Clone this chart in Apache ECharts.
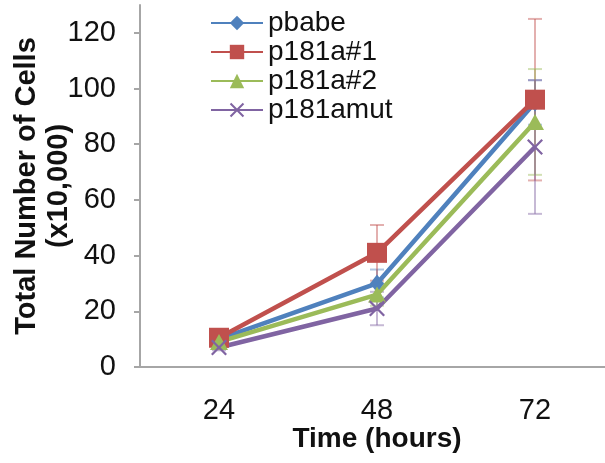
<!DOCTYPE html>
<html>
<head>
<meta charset="utf-8">
<script src="https://cdn.jsdelivr.net/npm/echarts@6/dist/echarts.min.js"></script>
<style>
  html, body { margin: 0; padding: 0; background: #fff; }
  #chart { width: 605px; height: 463px; }
</style>
</head>
<body>
<div id="chart"></div>
<script>
// time points (hours)
var categories = ['24', '48', '72'];
var yTicks = [0, 20, 40, 60, 80, 100, 120];

// mean cell counts (x10,000)
var pbabe = [10, 30, 95];
var p181a1 = [10.5, 41, 96];
var p181a2 = [9, 26, 88];
var p181amut = [7, 21, 79];

// error bar half-widths
var pbabeErr = [1, 5, 8];
var p181a1Err = [1, 10, 29];
var p181a2Err = [1, 4, 19];
var p181amutErr = [1, 6, 24];

var font = 'Liberation Sans, Arial, sans-serif';
var crossPath = 'path://M0,1L1,0L5,4L9,0L10,1L6,5L10,9L9,10L5,6L1,10L0,9L4,5Z';

var groups = [
    { name: 'pbabe', data: pbabe, err: pbabeErr, color: '#4F81BD', symbol: 'diamond', size: [14, 18] },
    { name: 'p181a#1', data: p181a1, err: p181a1Err, color: '#C0504D', symbol: 'rect', size: 20 },
    { name: 'p181a#2', data: p181a2, err: p181a2Err, color: '#9BBB59', symbol: 'triangle', size: [18, 16] },
    { name: 'p181amut', data: p181amut, err: p181amutErr, color: '#8064A2', symbol: crossPath, size: 16 }
];

function errBar(color) {
    return function (params, api) {
        var top = api.coord([api.value(0), api.value(2)]);
        var bot = api.coord([api.value(0), api.value(1)]);
        var w = 7;
        var style = { stroke: color, lineWidth: 2, opacity: 0.45 };
        return {
            type: 'group',
            children: [
                { type: 'line', shape: { x1: top[0], y1: top[1], x2: bot[0], y2: bot[1] }, style: style },
                { type: 'line', shape: { x1: top[0] - w, y1: top[1], x2: top[0] + w, y2: top[1] }, style: style },
                { type: 'line', shape: { x1: bot[0] - w, y1: bot[1], x2: bot[0] + w, y2: bot[1] }, style: style }
            ]
        };
    };
}

var series = [];
groups.forEach(function (g) {
    var errData = g.data.map(function (v, i) { return [i, v - g.err[i], v + g.err[i]]; });
    series.push({
        name: g.name + ' err',
        type: 'custom',
        z: 1,
        renderItem: errBar(g.color),
        data: errData,
        encode: { x: 0, y: [1, 2] },
        silent: true
    });
});
groups.forEach(function (g) {
    series.push({
        name: g.name,
        type: 'line',
        z: 2,
        data: g.data,
        symbol: g.symbol,
        symbolSize: g.size,
        lineStyle: { color: g.color, width: 4.5 },
        itemStyle: { color: g.color },
        animation: false
    });
});

var myChart = echarts.init(document.getElementById('chart'));
myChart.setOption({
    animation: false,
    grid: { left: 140, right: -9, top: 5, bottom: 96, outerBoundsMode: 'none', containLabel: false },
    legend: {
        data: groups.map(function (g) { return g.name; }),
        orient: 'vertical',
        left: 205,
        top: 4,
        itemWidth: 52,
        itemHeight: 18,
        itemGap: 1,
        textStyle: { fontFamily: font, fontSize: 28, color: '#111', lineHeight: 28 }
    },
    xAxis: {
        type: 'category',
        data: categories,
        boundaryGap: true,
        name: 'Time (hours)',
        nameLocation: 'middle',
        nameGap: 58,
        nameMoveOverlap: false,
        nameTextStyle: { fontFamily: font, fontSize: 28, fontWeight: 'bold', color: '#111' },
        axisLine: { lineStyle: { color: '#a6a6a6', width: 2 } },
        axisTick: { length: 6, lineStyle: { color: '#a6a6a6', width: 2 } },
        axisLabel: { fontFamily: font, fontSize: 29, color: '#111', margin: 29 }
    },
    yAxis: {
        type: 'value',
        min: 0,
        max: 130,
        interval: 20,
        name: 'Total Number of Cells\n(x10,000)',
        nameLocation: 'middle',
        nameGap: 65,
        nameMoveOverlap: false,
        nameRotate: 90,
        nameTextStyle: { fontFamily: font, fontSize: 29, fontWeight: 'bold', color: '#111', lineHeight: 32 },
        splitLine: { show: false },
        axisLine: { show: true, lineStyle: { color: '#a6a6a6', width: 2 } },
        axisTick: { show: true, length: 6, customValues: yTicks, lineStyle: { color: '#a6a6a6', width: 2 } },
        axisLabel: { fontFamily: font, fontSize: 29, color: '#111', margin: 24, customValues: yTicks }
    },
    series: series
});
</script>
</body>
</html>
